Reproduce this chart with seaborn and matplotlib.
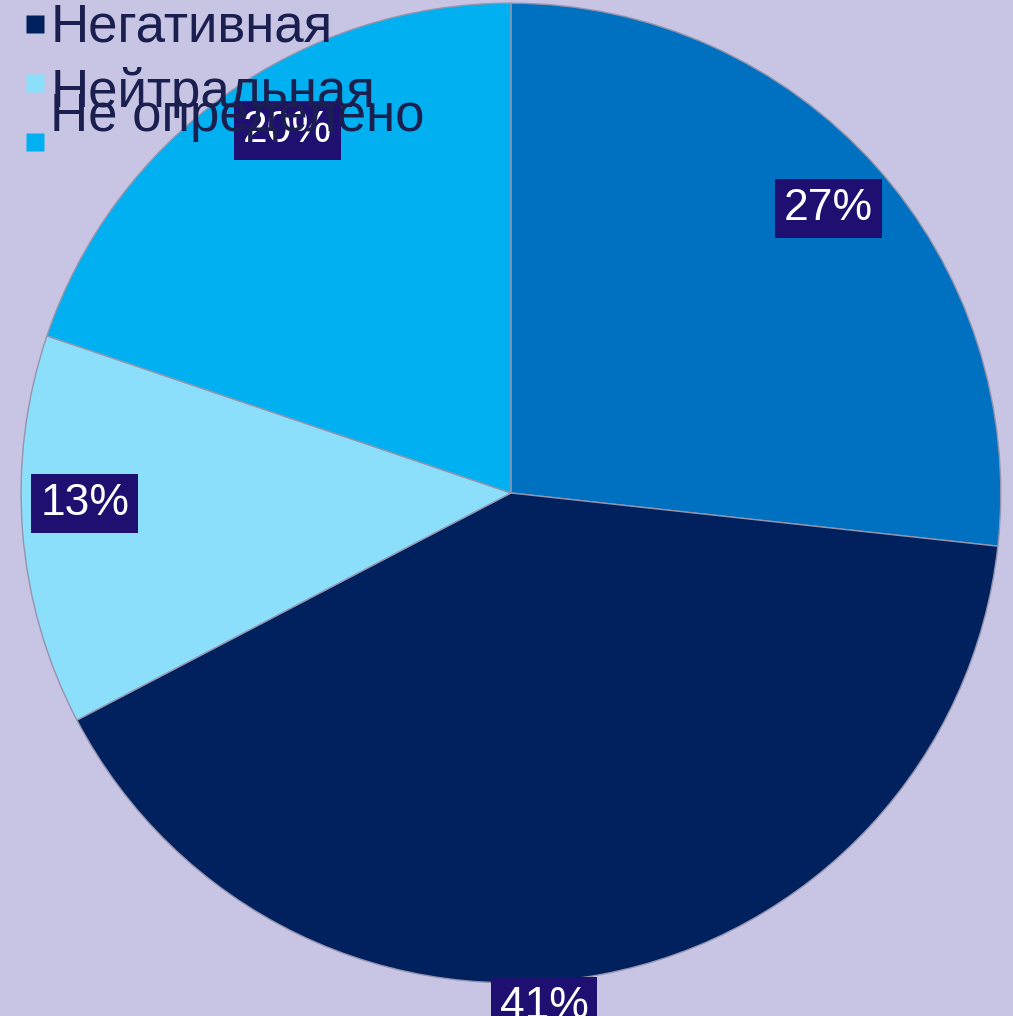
import numpy as np
import matplotlib
matplotlib.use("Agg")
from matplotlib import pyplot as plt
from matplotlib.lines import Line2D
import seaborn as sns

# Доли ответов, по часовой стрелке от верха
shares = [27, 41, 13, 20]
share_labels = ["27%", "41%", "13%", "20%"]
slice_colors = ["#0070c0", "#00205e", "#8cdffa", "#00b0f0"]

# Видимые пункты легенды
legend_names = ["Негативная", "Нейтральная", "Не определено"]
legend_colors = ["#00205e", "#8cdffa", "#00b0f0"]

sns.set_theme(style="white")
plt.rcParams['font.family'] = ['Liberation Sans', 'DejaVu Sans']

bg = "#c8c4e4"
fig = plt.figure(figsize=(10.13, 10.16), dpi=100, facecolor=bg)
ax = fig.add_axes([0, 0, 1, 1])
ax.set_facecolor(bg)

wedges, _ = ax.pie(shares, colors=slice_colors, startangle=90, counterclock=False,
                   wedgeprops=dict(edgecolor="#9494ae", linewidth=1))

# Подписи процентов в тёмных плашках
label_r = [0.87, 1.05, 0.87, 0.87]
label_shift = [0, -7, -3, -4]
for w, txt, r, sh in zip(wedges, share_labels, label_r, label_shift):
    ang = np.deg2rad((w.theta1 + w.theta2) / 2 + sh)
    ax.text(r * np.cos(ang), r * np.sin(ang), txt, ha="center", va="center",
            color="white", fontsize=32, clip_on=False,
            bbox=dict(boxstyle="square,pad=0.2", facecolor="#1f0f70", edgecolor="none"))

# Круг смещён и слегка обрезан, как на слайде
ax.set_xlim(-1.043, 1.025)
ax.set_ylim(-1.0677, 1.0064)
ax.axis("off")

handles = [Line2D([], [], marker="s", linestyle="none", markersize=13,
                  markerfacecolor=c, markeredgecolor="none") for c in legend_colors]
leg = ax.legend(handles, legend_names, loc="upper left",
                bbox_to_anchor=(24 / 1013, 1 - 3 / 1016), bbox_transform=fig.transFigure,
                frameon=False, fontsize=38, handlelength=0.4, handletextpad=0.1,
                labelspacing=0.17, borderpad=0, borderaxespad=0, labelcolor="#1b1f50")
texts = leg.get_texts()
texts[1].set_y(-5)
texts[2].set_y(30)

fig.savefig("out.png", dpi=100, facecolor=bg)
plt.close(fig)
